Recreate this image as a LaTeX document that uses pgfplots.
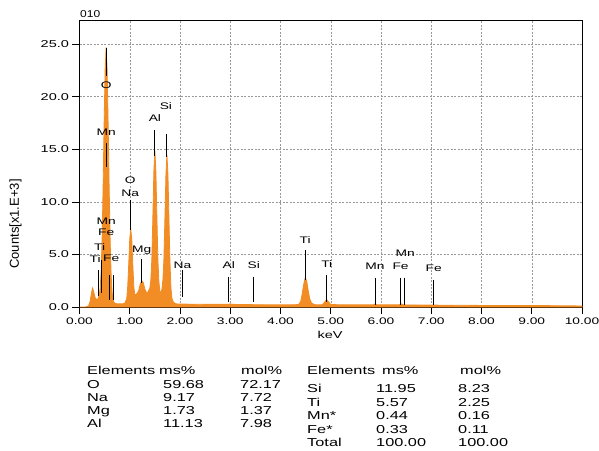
\documentclass[border=0pt]{standalone}
\usepackage{pgfplots}
\pgfplotsset{compat=1.18}
\usepackage{fontspec}
\setmainfont{Liberation Sans}
\newfontfamily\tickfont[FakeStretch=1.45]{Liberation Sans}
\newfontfamily\tabfont[FakeStretch=1.42]{Liberation Sans}
\newfontfamily\smallfont[FakeStretch=1.2]{Liberation Sans}

\definecolor{spec}{RGB}{242,140,36}
\tikzset{lbl/.style={font=\tickfont\fontsize{9.5}{11}\selectfont, inner sep=0pt}}

\begin{document}
\begin{tikzpicture}[x=1pt,y=1pt]
\useasboundingbox (0,0) rectangle (599,450);
\begin{axis}[
  at={(79.5pt,143pt)}, anchor=south west,
  scale only axis, width=502.5pt, height=287pt,
  xmin=0, xmax=10, ymin=0, ymax=27.3,
  xtick={0,1,...,10}, ytick={0,5,...,25},
  xtick pos=bottom, ytick pos=left,
  tick align=outside, major tick length=7pt,
  tick style={black, line width=0.6pt},
  axis line style={black, line width=0.7pt},
  grid=major,
  major grid style={gray!80, dash pattern=on 2pt off 1.5pt, line width=0.5pt},
  /pgf/number format/assume math mode=true,
  xticklabel style={font=\tickfont\fontsize{9.5}{12}\selectfont, /pgf/number format/.cd, fixed, fixed zerofill, precision=2},
  yticklabel style={font=\tickfont\fontsize{10}{12}\selectfont, /pgf/number format/.cd, fixed, fixed zerofill, precision=1},
  clip=false,
  unbounded coords=jump,
]
% measured spectrum
\addplot[draw=spec, fill=spec, line width=0.8pt] coordinates {
(0.00,0.0) (0.12,0.0) (0.18,0.1) (0.21,0.5) (0.24,1.4) (0.26,1.8) (0.28,1.5)
(0.31,0.9) (0.34,0.7) (0.37,0.8) (0.39,1.1) (0.41,1.7) (0.43,3.3) (0.45,6.5)
(0.47,11.5) (0.49,17.5) (0.51,22.6) (0.53,24.7) (0.55,22.6) (0.57,17.4)
(0.59,11.4) (0.61,6.3) (0.63,3.0) (0.65,1.3) (0.67,0.6) (0.70,0.35)
(0.75,0.3) (0.85,0.3) (0.90,0.35) (0.94,0.8) (0.96,2.0) (0.98,4.1) (1.00,6.5)
(1.02,7.4) (1.04,6.5) (1.06,4.1) (1.08,2.0) (1.10,1.1) (1.12,1.2) (1.15,1.3)
(1.18,1.6) (1.21,2.2) (1.24,2.5) (1.27,2.3) (1.30,1.7) (1.33,1.4) (1.36,1.4)
(1.40,1.8) (1.42,2.6) (1.44,4.6) (1.46,8.6) (1.48,12.9) (1.50,14.9) (1.52,12.9)
(1.54,8.6) (1.56,4.5) (1.58,2.4) (1.60,1.5) (1.62,1.3) (1.64,1.7) (1.66,2.6)
(1.68,4.6) (1.70,8.5) (1.72,12.6) (1.74,14.5) (1.76,12.6) (1.78,8.4) (1.80,4.3)
(1.82,1.8) (1.84,0.8) (1.87,0.45) (1.92,0.3) (2.00,0.28) (2.50,0.25)
(2.95,0.25) (3.00,0.3) (3.05,0.25) (3.50,0.22) (4.00,0.2) (4.30,0.22)
(4.36,0.25) (4.40,0.5) (4.43,1.2) (4.46,2.1) (4.49,2.75) (4.52,2.5) (4.55,1.6)
(4.58,0.8) (4.62,0.35) (4.70,0.2) (4.82,0.2) (4.86,0.35) (4.90,0.6) (4.93,0.65)
(4.96,0.45) (5.00,0.25) (5.20,0.2) (5.85,0.2) (5.88,0.3) (5.92,0.2) (6.36,0.2)
(6.40,0.3) (6.45,0.2) (7.00,0.18) (8.00,0.15) (9.00,0.15) (9.50,0.12) (10.00,0.1)
} \closedcycle;
% element marker lines
\addplot[black, line width=0.9pt] coordinates {
(0.53,24.6) (0.53,22.0) (0.53,nan)
(0.53,15.6) (0.53,13.3) (0.53,nan)
(1.01,10.2) (1.01,7.3) (1.01,nan)
(1.50,16.8) (1.50,14.4) (1.50,nan)
(1.74,16.5) (1.74,14.3) (1.74,nan)
(0.37,3.5) (0.37,1.0) (0.37,nan)
(0.43,4.5) (0.43,1.3) (0.43,nan)
(0.60,3.0) (0.60,0.7) (0.60,nan)
(0.67,3.0) (0.67,0.7) (0.67,nan)
(1.24,4.6) (1.24,2.3) (1.24,nan)
(2.05,3.5) (2.05,0.95) (2.05,nan)
(2.97,2.9) (2.97,0.5) (2.97,nan)
(3.47,2.9) (3.47,0.5) (3.47,nan)
(4.49,5.4) (4.49,2.6) (4.49,nan)
(4.92,3.0) (4.92,0.5) (4.92,nan)
(5.88,2.8) (5.88,0.2) (5.88,nan)
(6.39,2.8) (6.39,0.2) (6.39,nan)
(6.46,2.8) (6.46,0.2) (6.46,nan)
(7.05,2.6) (7.05,0.2)
};
% element labels
\node[lbl] at (axis cs:0.53,21.1) {O};
\node[lbl] at (axis cs:0.53,16.6) {Mn};
\node[lbl] at (axis cs:1.01,12.1) {O};
\node[lbl] at (axis cs:1.01,10.8) {Na};
\node[lbl] at (axis cs:1.50,18.0) {Al};
\node[lbl] at (axis cs:1.72,19.1) {Si};
\node[lbl] at (axis cs:0.53,8.2) {Mn};
\node[lbl] at (axis cs:0.53,7.1) {Fe};
\node[lbl] at (axis cs:0.40,5.7) {Ti};
\node[lbl] at (axis cs:0.31,4.6) {Ti};
\node[lbl] at (axis cs:0.63,4.6) {Fe};
\node[lbl] at (axis cs:1.24,5.4) {Mg};
\node[lbl] at (axis cs:2.05,4.0) {Na};
\node[lbl] at (axis cs:2.97,4.0) {Al};
\node[lbl] at (axis cs:3.47,4.0) {Si};
\node[lbl] at (axis cs:4.49,6.4) {Ti};
\node[lbl] at (axis cs:4.92,4.1) {Ti};
\node[lbl] at (axis cs:5.88,3.9) {Mn};
\node[lbl] at (axis cs:6.39,3.9) {Fe};
\node[lbl] at (axis cs:6.48,5.1) {Mn};
\node[lbl] at (axis cs:7.05,3.7) {Fe};
\end{axis}

% titles around the axis
\node[anchor=west, font=\smallfont\fontsize{10}{12}\selectfont, inner sep=0pt] at (80,436) {010};
\node[rotate=90, font=\fontsize{13}{15}\selectfont, inner sep=0pt] at (15.5,226) {Counts[x1.E+3]};
\node[font=\tickfont\fontsize{10}{12}\selectfont, inner sep=0pt] at (330,115) {keV};

% composition table
\begin{scope}[every node/.style={anchor=base west, inner sep=0pt, font=\tabfont\fontsize{11.5}{13}\selectfont}]
\node at (87,76) {Elements}; \node at (159,76) {ms\%}; \node at (241,76) {mol\%};
\node at (87,62) {O};  \node at (163,62) {59.68}; \node at (240,62) {72.17};
\node at (87,49) {Na}; \node at (163,49) {9.17};  \node at (240,49) {7.72};
\node at (87,36) {Mg}; \node at (163,36) {1.73};  \node at (240,36) {1.37};
\node at (87,23) {Al}; \node at (163,23) {11.13}; \node at (240,23) {7.98};
\node at (307,76) {Elements}; \node at (382,76) {ms\%}; \node at (460,76) {mol\%};
\node at (307,58) {Si};    \node at (376,58) {11.95};  \node at (458,58) {8.23};
\node at (307,44) {Ti};    \node at (376,44) {5.57};   \node at (458,44) {2.25};
\node at (307,31) {Mn*};   \node at (376,31) {0.44};   \node at (458,31) {0.16};
\node at (307,17) {Fe*};   \node at (376,17) {0.33};   \node at (458,17) {0.11};
\node at (307,4)  {Total}; \node at (376,4)  {100.00}; \node at (458,4)  {100.00};
\end{scope}
\end{tikzpicture}
\end{document}
